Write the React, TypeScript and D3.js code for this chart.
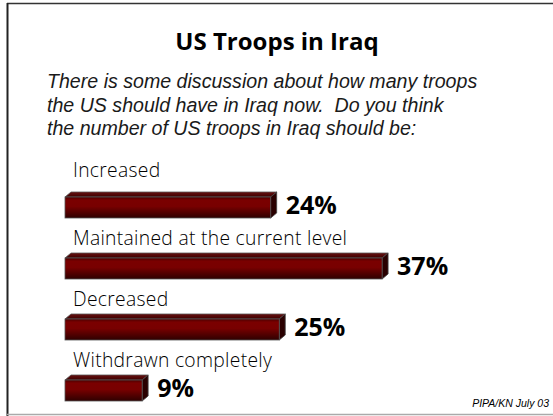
import React from "react";
import * as d3 from "d3";

const categories = ["Increased", "Maintained at the current level", "Decreased", "Withdrawn completely"];
const values = [24, 37, 25, 9];
const valueLabels = ["24%", "37%", "25%", "9%"];
const title = "US Troops in Iraq";
const questionLines = [
  "There is some discussion about how many troops",
  "the US should have in Iraq now.  Do you think",
  "the number of US troops in Iraq should be:",
];
const source = "PIPA/KN July 03";

export default function App() {
  const W = 553, H = 416;
  const x = d3.scaleLinear().domain([0, 100]).range([65, 65 + 857]);
  const y = d3.scaleBand<string>().domain(categories).range([197, 441]).paddingInner(0).paddingOuter(0);
  const barH = 21;
  const dx = 6, dy = 5;
  return (
    <svg width={W} height={H} style={{ position: "absolute", left: 0, top: 0, background: "#fff" }}>
      <defs>
        <linearGradient id="front" x1="0" y1="0" x2="0" y2="1">
          <stop offset="0" stopColor="#4a0000" />
          <stop offset="0.15" stopColor="#7a0000" />
          <stop offset="0.45" stopColor="#780000" />
          <stop offset="1" stopColor="#2e0000" />
        </linearGradient>
        <linearGradient id="topf" x1="0" y1="0" x2="0" y2="1">
          <stop offset="0" stopColor="#6a1010" />
          <stop offset="1" stopColor="#3a0000" />
        </linearGradient>
      </defs>
      <rect x={0} y={0} width={W} height={H} fill="#fff" />
      <line x1={7} y1={3.5} x2={W} y2={3.5} stroke="#333" strokeWidth={1.5} />
      <line x1={7.5} y1={3} x2={7.5} y2={416} stroke="#222" strokeWidth={2} />
      <line x1={7} y1={414.5} x2={W} y2={414.5} stroke="#aaa" strokeWidth={1.5} />
      <text x={277} y={50} textAnchor="middle" fontFamily="'Open Sans', 'Noto Sans', sans-serif" fontWeight={700} fontSize={24} fill="#000">{title}</text>
      {questionLines.map((l, i) => (
        <text key={i} x={47} y={88 + i * 23.5} style={{ whiteSpace: "pre" }} fontFamily="'Liberation Sans', Arial, sans-serif" fontStyle="italic" fontSize={19.6} fill="#1a1a1a">{l}</text>
      ))}
      {categories.map((c, i) => {
        const y0 = y(c)!;
        const x0 = x(0), x1 = x(values[i]);
        return (
          <g key={c}>
            <text x={73} y={y0 - (i === 0 ? 20 : 13)} fontFamily="'Open Sans', sans-serif" fontWeight={300} fontSize={19.3} letterSpacing={0.3} fill="#000">{c}</text>
            <polygon points={`${x0},${y0} ${x0 + dx},${y0 - dy} ${x1 + dx},${y0 - dy} ${x1},${y0}`} fill="url(#topf)" stroke="#555" strokeWidth={0.8} />
            <polygon points={`${x1},${y0} ${x1 + dx},${y0 - dy} ${x1 + dx},${y0 + barH - dy} ${x1},${y0 + barH}`} fill="#2a0000" stroke="#444" strokeWidth={0.8} />
            <rect x={x0} y={y0} width={x1 - x0} height={barH} fill="url(#front)" stroke="#555" strokeWidth={0.8} />
            <text x={x1 + 15} y={y0 + 17} fontFamily="'Open Sans', 'Noto Sans', sans-serif" fontWeight={700} fontSize={25} fill="#000">{valueLabels[i]}</text>
          </g>
        );
      })}
      <text x={549} y={407} textAnchor="end" fontFamily="'Liberation Sans', Arial, sans-serif" fontStyle="italic" fontSize={10.5} fill="#000">{source}</text>
    </svg>
  );
}
